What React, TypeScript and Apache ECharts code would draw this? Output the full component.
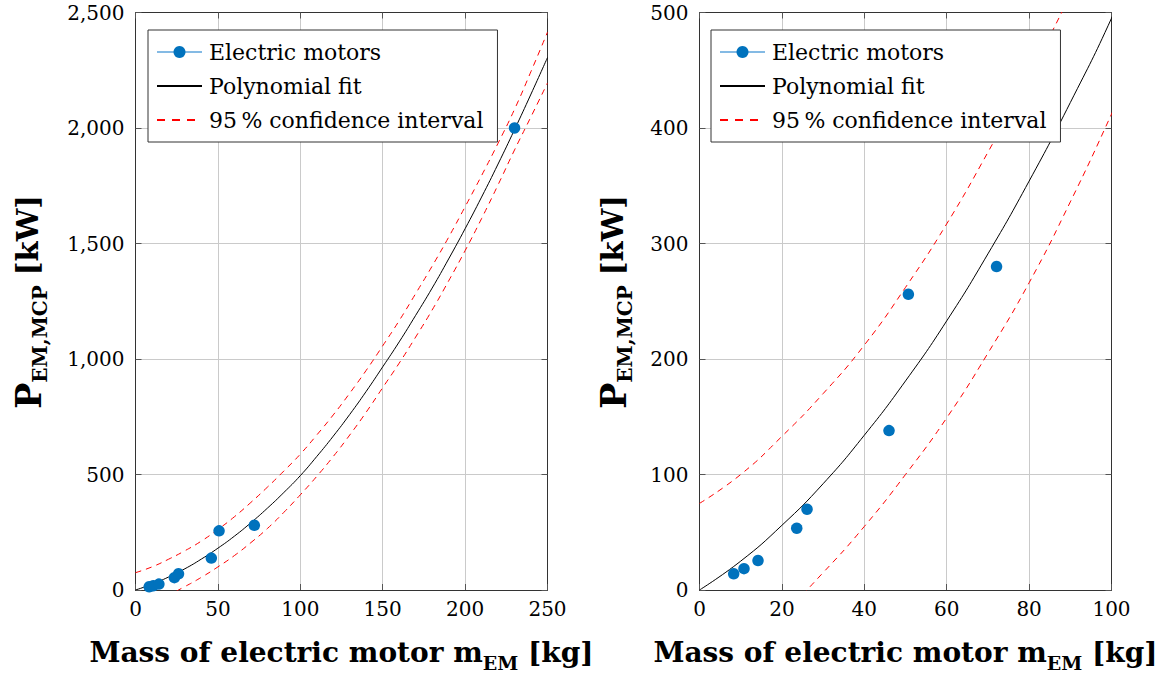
import React, { useEffect, useRef } from "react";
import * as echarts from "echarts";

// Measured electric motors (mass in kg, max. continuous power in kW)
const motorMass = [8.3, 10.8, 14.2, 23.6, 26.1, 46.0, 50.7, 72.1, 230.0];
const motorPower = [14, 18.5, 25.5, 53.5, 70, 138, 256, 280, 2000];

// Polynomial fit and 95 % confidence band
const curveMass = [0, 10, 20, 30, 40, 50, 60, 70, 80, 90, 100, 110, 120, 130, 140, 150, 160, 170, 180, 190, 200, 210, 220, 230, 240, 250];
const fitPower = [0, 25, 56, 92, 134, 181, 233, 291, 354, 422, 495, 578, 666, 760, 860, 966, 1074, 1189, 1307, 1433, 1564, 1701, 1844, 1993, 2147, 2305];
const upperPower = [75, 100, 133, 170, 212, 262, 317, 379, 445, 515, 588, 671, 758, 852, 951, 1057, 1166, 1283, 1402, 1527, 1659, 1794, 1934, 2081, 2245, 2415];
const lowerPower = [-75, -50, -21, 15, 55, 100, 149, 205, 266, 336, 412, 492, 578, 671, 770, 876, 982, 1095, 1212, 1338, 1469, 1608, 1754, 1905, 2049, 2195];

// Axis ranges
const leftX = { min: 0, max: 250, interval: 50 };
const leftY = { min: 0, max: 2500, interval: 500 };
const rightX = { min: 0, max: 100, interval: 20 };
const rightY = { min: 0, max: 500, interval: 100 };

const seriesNames = ["Electric motors", "Polynomial fit", "95\u2009% confidence interval"];

const FONT = "'DejaVu Serif', serif";
const pairs = (xs: number[], ys: number[]) => xs.map((x, i) => [x, ys[i]]);

export default function App() {
  const ref = useRef<HTMLDivElement>(null);

  useEffect(() => {
    if (!ref.current) return;
    const chart = echarts.init(ref.current, undefined, { renderer: "svg" });

    const grids = [
      { left: 135.5, top: 12.5, width: 412, height: 577.5 },
      { left: 699.5, top: 12.5, width: 412, height: 577.5 },
    ];

    const frameLine = { show: true, lineStyle: { color: "#333", width: 1 } };
    const tick = { show: true, inside: true, length: 6, lineStyle: { color: "#555", width: 1 } };
    const split = { show: true, lineStyle: { color: "#cacaca", width: 1 } };
    const dash = [6, 5];
    const tickRich = { t: { fontFamily: FONT, fontSize: 20, color: "#000" } };

    const mkX = (gi: number, r: any, pos: "bottom" | "top") => ({
      type: "value",
      gridIndex: gi,
      position: pos,
      min: r.min,
      max: r.max,
      interval: r.interval,
      axisLine: { ...frameLine, onZero: false },
      axisTick: tick,
      splitLine: pos === "bottom" ? split : { show: false },
      axisLabel:
        pos === "bottom"
          ? { color: "#000", fontFamily: FONT, fontSize: 20, margin: 9, rich: tickRich, formatter: (v: number) => `{t|${v}}` }
          : { show: false },
    });
    const mkY = (gi: number, r: any, pos: "left" | "right", thousands: boolean) => ({
      type: "value",
      gridIndex: gi,
      position: pos,
      min: r.min,
      max: r.max,
      interval: r.interval,
      axisLine: { ...frameLine, onZero: false },
      axisTick: tick,
      splitLine: pos === "left" ? split : { show: false },
      axisLabel:
        pos === "left"
          ? {
              color: "#000",
              fontFamily: FONT,
              fontSize: 20,
              margin: 11,
              rich: tickRich,
              formatter: (v: number) => `{t|${thousands ? v.toLocaleString("en-US") : String(v)}}`,
            }
          : { show: false },
    });

    const makeSeries = (gi: number) => [
      {
        name: seriesNames[2],
        type: "line",
        xAxisIndex: gi,
        yAxisIndex: gi,
        data: pairs(curveMass, upperPower),
        symbol: "none",
        smooth: true,
        clip: true,
        lineStyle: { color: "#ff0000", width: 1, type: dash },
        itemStyle: { color: "#ff0000" },
        z: 2,
      },
      {
        name: seriesNames[2],
        type: "line",
        xAxisIndex: gi,
        yAxisIndex: gi,
        data: pairs(curveMass, lowerPower),
        symbol: "none",
        smooth: true,
        clip: true,
        lineStyle: { color: "#ff0000", width: 1, type: dash },
        itemStyle: { color: "#ff0000" },
        z: 2,
      },
      {
        name: seriesNames[1],
        type: "line",
        xAxisIndex: gi,
        yAxisIndex: gi,
        data: pairs(curveMass, fitPower),
        symbol: "none",
        smooth: true,
        clip: true,
        lineStyle: { color: "#000", width: 1 },
        itemStyle: { color: "#000" },
        z: 3,
      },
      {
        name: seriesNames[0],
        type: "line",
        xAxisIndex: gi,
        yAxisIndex: gi,
        data: pairs(motorMass, motorPower),
        symbol: "circle",
        symbolSize: 11.5,
        showSymbol: true,
        clip: true,
        lineStyle: { color: "#5ba3db", width: 1.5, opacity: 0 },
        itemStyle: { color: "#0072BD" },
        z: 4,
      },
    ];

    const legendData = [
      { name: seriesNames[0], lineStyle: { opacity: 1, color: "#5ba3db", width: 1.5 } },
      { name: seriesNames[1], itemStyle: { opacity: 0 } },
      { name: seriesNames[2], itemStyle: { opacity: 0 }, lineStyle: { type: [8, 7] } },
    ];
    const mkLegend = (left: number) => ({
      orient: "vertical",
      left,
      top: 30,
      data: legendData,
      itemWidth: 45,
      itemHeight: 15,
      itemGap: 10,
      padding: [10, 14, 10, 8],
      backgroundColor: "#fff",
      borderColor: "#333",
      borderWidth: 1,
      borderRadius: 0,
      selectedMode: false,
      formatter: (name: string) => `{t|${name}}`,
      textStyle: {
        color: "#000",
        fontFamily: FONT,
        fontSize: 22,
        lineHeight: 24,
        padding: [0, 0, 0, 2],
        rich: { t: { fontFamily: FONT, fontSize: 22, lineHeight: 24, color: "#000" } },
      },
    });

    const xTitle = (cx: number) => ({
      type: "text",
      x: cx,
      y: 652,
      style: {
        text: "{a|Mass of electric motor m}{s|EM}{a| [kg]}",
        align: "center",
        verticalAlign: "middle",
        fill: "#000",
        rich: {
          a: { fontFamily: FONT, fontWeight: "bold", fontSize: 28, lineHeight: 40, fill: "#000" },
          s: { fontFamily: FONT, fontWeight: "bold", fontSize: 19, lineHeight: 25, verticalAlign: "bottom", fill: "#000" },
        },
      },
    });
    const yTitle = (cx: number) => ({
      type: "text",
      x: cx,
      y: 302,
      rotation: Math.PI / 2,
      style: {
        text: "{p|P}{s|EM,MCP}{a| [kW]}",
        align: "center",
        verticalAlign: "middle",
        fill: "#000",
        rich: {
          p: { fontFamily: FONT, fontWeight: "bold", fontSize: 35, lineHeight: 44, fill: "#000" },
          s: { fontFamily: FONT, fontWeight: "bold", fontSize: 20, lineHeight: 27, verticalAlign: "bottom", fill: "#000" },
          a: { fontFamily: FONT, fontWeight: "bold", fontSize: 29, lineHeight: 44, fill: "#000" },
        },
      },
    });

    chart.setOption({
      animation: false,
      backgroundColor: "#fff",
      textStyle: { fontFamily: FONT },
      grid: grids,
      xAxis: [mkX(0, leftX, "bottom"), mkX(1, rightX, "bottom"), mkX(0, leftX, "top"), mkX(1, rightX, "top")],
      yAxis: [mkY(0, leftY, "left", true), mkY(1, rightY, "left", false), mkY(0, leftY, "right", true), mkY(1, rightY, "right", false)],
      legend: [mkLegend(148), mkLegend(711)],
      series: [...makeSeries(0), ...makeSeries(1)],
      graphic: [xTitle(341.5), xTitle(905.5), yTitle(28), yTitle(613)],
    });

    return () => chart.dispose();
  }, []);

  return (
    <div
      ref={ref}
      style={{ position: "absolute", left: 0, top: 0, width: 1170, height: 678, background: "#fff" }}
    />
  );
}
